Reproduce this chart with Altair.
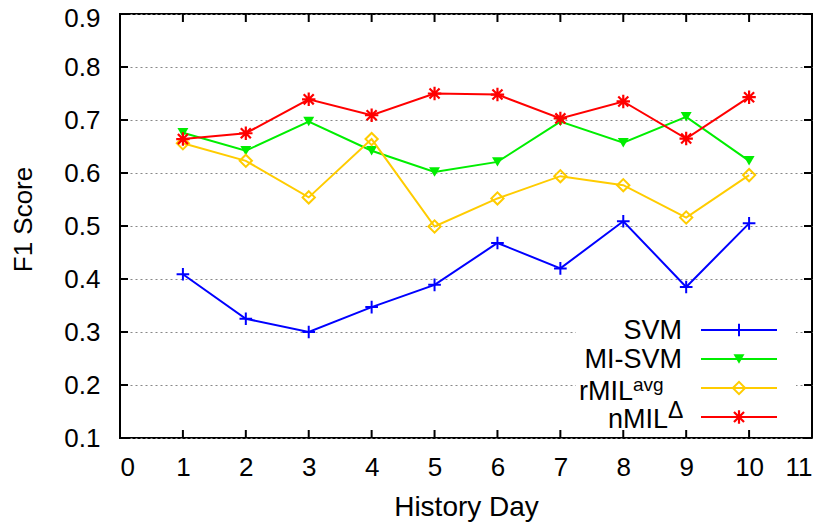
import altair as alt
import pandas as pd

# ---- data ----
days = [1, 2, 3, 4, 5, 6, 7, 8, 9, 10]
svm = [0.409, 0.325, 0.300, 0.347, 0.389, 0.468, 0.420, 0.509, 0.385, 0.505]
mi_svm = [0.676, 0.642, 0.697, 0.642, 0.602, 0.621, 0.697, 0.657, 0.706, 0.623]
rmil_avg = [0.656, 0.623, 0.554, 0.664, 0.499, 0.552, 0.594, 0.577, 0.516, 0.596]
nmil_delta = [0.664, 0.675, 0.739, 0.709, 0.750, 0.748, 0.703, 0.735, 0.665, 0.743]

series_names = ["SVM", "MI-SVM", "rMIL", "nMIL"]
series_sup = ["", "", "avg", "Δ"]
series_values = [svm, mi_svm, rmil_avg, nmil_delta]
series_colors = ["#0000ff", "#00ee00", "#ffcc00", "#ff0000"]

x_ticks = list(range(0, 12))
y_ticks = [0.1, 0.2, 0.3, 0.4, 0.5, 0.6, 0.7, 0.8, 0.9]

# ---- layout ----
W, H = 692, 424
FONT = "Liberation Sans"
PLUS = "M-1,0L1,0M0,-1L0,1"
STAR = "M-1,0L1,0M0,-1L0,1M-0.75,-0.75L0.75,0.75M-0.75,0.75L0.75,-0.75"
marker_specs = [
    dict(shape=PLUS, filled=False, size=160, strokeWidth=2),
    dict(shape="triangle-down", filled=True, size=120, strokeWidth=1),
    dict(shape="diamond", filled=False, size=150, strokeWidth=2),
    dict(shape=STAR, filled=False, size=180, strokeWidth=2.2),
]
# legend layout (plot-area pixels)
leg_line_y = [316, 345, 374, 403]
leg_text_base = [325, 354, 386, 414]
leg_text_right = [562, 562, 513, 548]
leg_sup_x = [0, 0, 513, 548]
leg_sup_base = [0, 0, 377, 404]
leg_sup_size = [0, 0, 19, 23]

xscale = alt.Scale(domain=[0, 11], nice=False, zero=False)
yscale = alt.Scale(domain=[0.1, 0.9], nice=False, zero=False)

base_rows = []
for name, vals in zip(series_names, series_values):
    for d, v in zip(days, vals):
        base_rows.append({"series": name, "day": d, "f1": v})
df = pd.DataFrame(base_rows)

# axes + grid layer
axis_layer = alt.Chart(df).mark_point(opacity=0).encode(
    x=alt.X("day:Q", scale=xscale,
            axis=alt.Axis(values=x_ticks, title="History Day", grid=False, ticks=False,
                          domain=False, labelPadding=16, format="d",
                          titleFontSize=28, titleBaseline="alphabetic", titleY=77)),
    y=alt.Y("f1:Q", scale=yscale,
            axis=alt.Axis(values=y_ticks, title="F1 Score", grid=True, ticks=False,
                          domain=False, labelPadding=20, format=".1f",
                          labelOffset={"condition": {"test": "datum.value >= 0.85", "value": 4},
                                       "value": 0},
                          titleFontSize=26, titleBaseline="alphabetic", titleX=-89,
                          titleY=205, titleAngle=270,
                          gridDash=[2, 3], gridColor="#888888", gridWidth=1)),
)

# inward tick marks (gnuplot style)
ydf = pd.DataFrame({"v": y_ticks})
xdf = pd.DataFrame({"v": x_ticks})
tick_layers = [
    alt.Chart(ydf).mark_rule(color="black", strokeWidth=2).encode(
        y=alt.Y("v:Q", scale=yscale), x=alt.value(0), x2=alt.value(8)),
    alt.Chart(ydf).mark_rule(color="black", strokeWidth=2).encode(
        y=alt.Y("v:Q", scale=yscale), x=alt.value(W - 8), x2=alt.value(W)),
    alt.Chart(xdf).mark_rule(color="black", strokeWidth=2).encode(
        x=alt.X("v:Q", scale=xscale), y=alt.value(H - 8), y2=alt.value(H)),
    alt.Chart(xdf).mark_rule(color="black", strokeWidth=2).encode(
        x=alt.X("v:Q", scale=xscale), y=alt.value(0), y2=alt.value(8)),
]

# legend background
dummy = pd.DataFrame({"a": [0]})
legend_bg = alt.Chart(dummy).mark_rect(color="white").encode(
    x=alt.value(456), x2=alt.value(676), y=alt.value(306), y2=alt.value(H - 1))

data_layers = []
legend_layers = []
for i, (name, sup, color, ms) in enumerate(zip(series_names, series_sup, series_colors, marker_specs)):
    sdf = df[df.series == name]
    data_layers.append(
        alt.Chart(sdf).mark_line(color=color, strokeWidth=2).encode(
            x=alt.X("day:Q", scale=xscale), y=alt.Y("f1:Q", scale=yscale)))
    pt = dict(shape=ms["shape"], size=ms["size"], strokeWidth=ms["strokeWidth"], opacity=1,
              filled=ms["filled"], color=color)
    data_layers.append(
        alt.Chart(sdf).mark_point(**pt).encode(
            x=alt.X("day:Q", scale=xscale), y=alt.Y("f1:Q", scale=yscale)))

    ldf = pd.DataFrame({"t": [name]})
    legend_layers.append(
        alt.Chart(ldf).mark_text(align="right", baseline="alphabetic", font=FONT, fontSize=27,
                                 color="black").encode(
            text="t:N", x=alt.value(leg_text_right[i]), y=alt.value(leg_text_base[i])))
    if sup:
        sdf2 = pd.DataFrame({"t": [sup]})
        legend_layers.append(
            alt.Chart(sdf2).mark_text(align="left", baseline="alphabetic", font=FONT,
                                      fontSize=leg_sup_size[i], color="black").encode(
                text="t:N", x=alt.value(leg_sup_x[i]), y=alt.value(leg_sup_base[i])))
    legend_layers.append(
        alt.Chart(dummy).mark_rule(color=color, strokeWidth=2).encode(
            x=alt.value(581), x2=alt.value(657), y=alt.value(leg_line_y[i])))
    legend_layers.append(
        alt.Chart(dummy).mark_point(**pt).encode(x=alt.value(619), y=alt.value(leg_line_y[i])))

chart = alt.layer(
    axis_layer, *data_layers, legend_bg, *legend_layers, *tick_layers
).properties(
    width=W, height=H,
    background="white",
    autosize=alt.AutoSizeParams(type="none"),
    padding={"left": 112, "top": 6, "right": 11, "bottom": 95},
).configure_view(
    stroke="black", strokeWidth=2
).configure_axis(
    labelFont=FONT, titleFont=FONT, labelFontSize=26, titleFontSize=26,
    labelColor="black", titleColor="black", titleFontWeight="normal"
)

chart.save("out.html", embed_options={"renderer": "svg", "actions": False})
